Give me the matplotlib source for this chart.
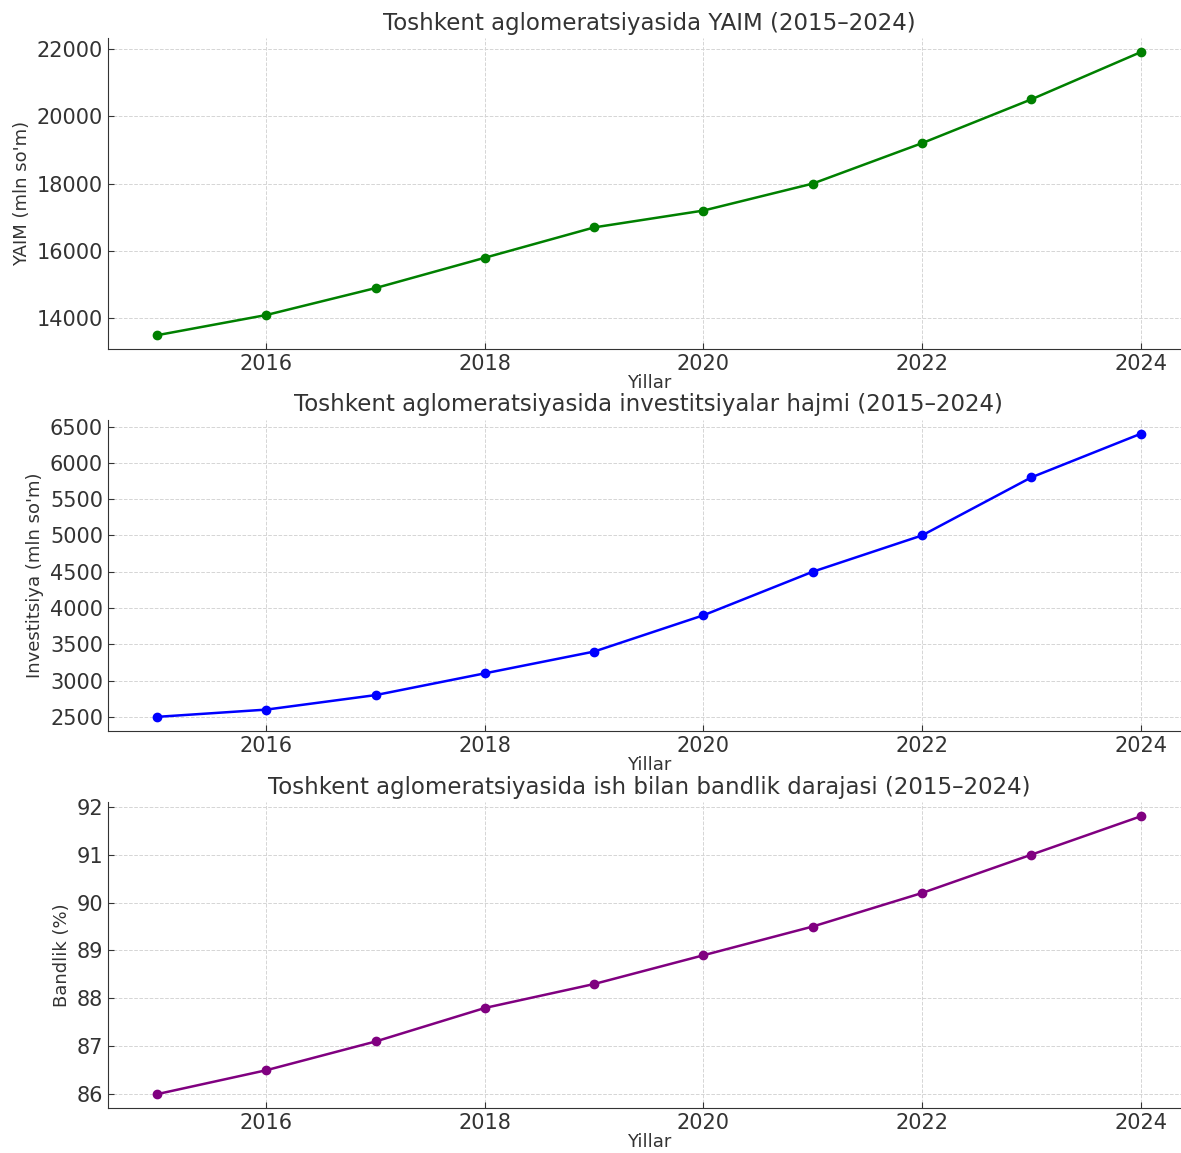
import numpy as np
import matplotlib.pyplot as plt
from matplotlib.ticker import MultipleLocator

years = [2015, 2016, 2017, 2018, 2019, 2020, 2021, 2022, 2023, 2024]
yaim = [13500, 14100, 14900, 15800, 16700, 17200, 18000, 19200, 20500, 21900]
invest = [2500, 2600, 2800, 3100, 3400, 3900, 4500, 5000, 5800, 6400]
bandlik = [86.0, 86.5, 87.1, 87.8, 88.3, 88.9, 89.5, 90.2, 91.0, 91.8]

titles = [
    "Toshkent aglomeratsiyasida YAIM (2015\u20132024)",
    "Toshkent aglomeratsiyasida investitsiyalar hajmi (2015\u20132024)",
    "Toshkent aglomeratsiyasida ish bilan bandlik darajasi (2015\u20132024)",
]
ylabels = ["YAIM (mln so'm)", "Investitsiya (mln so'm)", "Bandlik (%)"]
colors = ["green", "blue", "purple"]
series = [yaim, invest, bandlik]
ysteps = [2000, 500, 1]

plt.rcParams["text.color"] = "#333333"
plt.rcParams["axes.labelcolor"] = "#333333"
plt.rcParams["xtick.color"] = "#333333"
plt.rcParams["ytick.color"] = "#333333"

fig = plt.figure(figsize=(11.81, 11.53), dpi=100)
# [left, bottom, width, height]
boxes = [
    [0.0914, 0.697, 0.916, 0.270],
    [0.0914, 0.366, 0.916, 0.270],
    [0.0914, 0.039, 0.916, 0.265],
]

for box, vals, col, title, ylab, step in zip(boxes, series, colors, titles, ylabels, ysteps):
    ax = fig.add_axes(box)
    ax.plot(years, vals, marker="o", color=col, linewidth=1.8, markersize=6)
    ax.set_title(title, fontsize=16.5, pad=6)
    ax.set_xlabel("Yillar", fontsize=13, labelpad=0)
    ax.set_ylabel(ylab, fontsize=13)
    ax.set_xticks([2016, 2018, 2020, 2022, 2024])
    ax.yaxis.set_major_locator(MultipleLocator(step))
    ax.tick_params(labelsize=15, direction="in", length=4)
    ax.grid(True, linestyle="--", color="#d5d5d5", linewidth=0.7)
    ax.spines["top"].set_visible(False)
    ax.spines["right"].set_visible(False)
    ax.spines["left"].set_color("#333333")
    ax.spines["bottom"].set_color("#333333")

plt.savefig("out.png", dpi=100)
